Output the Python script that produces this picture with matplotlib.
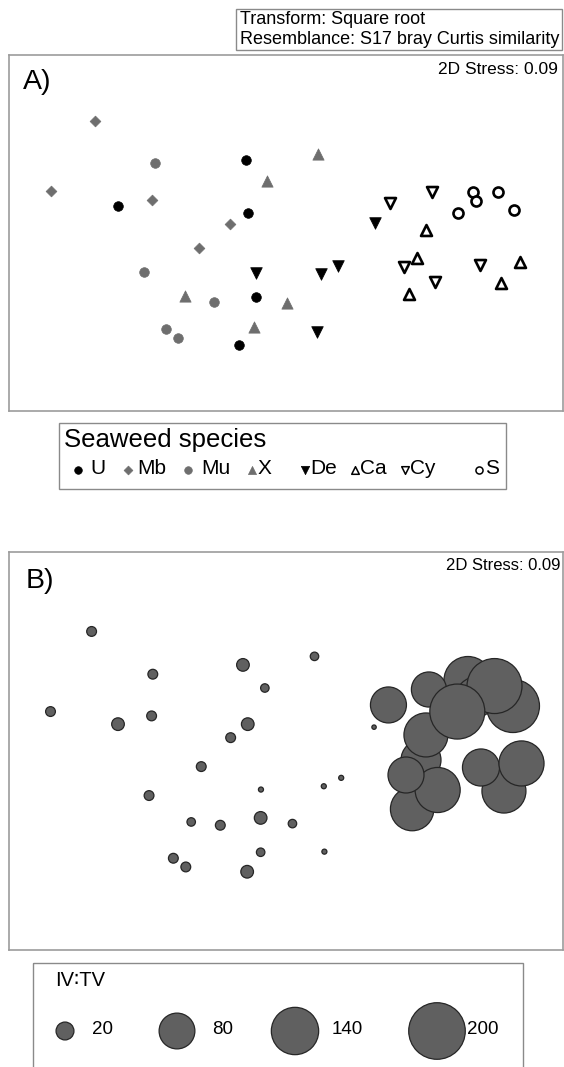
import matplotlib
matplotlib.use('Agg')
import matplotlib.pyplot as plt
from matplotlib.patches import Rectangle

plt.rcParams['font.family'] = ['Liberation Sans', 'DejaVu Sans']

# ---------------- Panel A: NMDS ordination by seaweed species ----------------
species = ['U', 'Mb', 'Mu', 'X', 'De', 'Ca', 'Cy', 'S']

U_x = [-0.265, -1.123, -0.255, -0.200, -0.313]
U_y = [0.489, 0.179, 0.135, -0.429, -0.745]
Mb_x = [-1.273, -1.569, -0.894, -0.373, -0.583]
Mb_y = [0.744, 0.283, 0.219, 0.058, -0.099]
Mu_x = [-0.873, -0.945, -0.477, -0.803, -0.723]
Mu_y = [0.469, -0.257, -0.460, -0.639, -0.697]
X_x = [0.215, -0.127, -0.673, 0.005, -0.212]
X_y = [0.527, 0.350, -0.423, -0.467, -0.628]
De_x = [0.596, -0.197, 0.232, 0.350, 0.210]
De_y = [0.065, -0.267, -0.272, -0.223, -0.657]
Ca_x = [0.936, 0.873, 0.818, 1.561, 1.435]
Ca_y = [0.018, -0.170, -0.405, -0.192, -0.334]
Cy_x = [0.975, 0.693, 0.784, 0.994, 1.293]
Cy_y = [0.273, 0.197, -0.225, -0.329, -0.215]
S_x = [1.148, 1.245, 1.267, 1.411, 1.522]
S_y = [0.135, 0.275, 0.213, 0.275, 0.153]

coords_A = {'U': (U_x, U_y), 'Mb': (Mb_x, Mb_y), 'Mu': (Mu_x, Mu_y),
            'X': (X_x, X_y), 'De': (De_x, De_y), 'Ca': (Ca_x, Ca_y),
            'Cy': (Cy_x, Cy_y), 'S': (S_x, S_y)}

GRAY = '#6e6e6e'
styles = {
    'U':  dict(marker='o', s=48, c='black', edgecolors='black', linewidths=0.5),
    'Mb': dict(marker='D', s=30, c=GRAY, edgecolors=GRAY, linewidths=0.5),
    'Mu': dict(marker='o', s=48, c=GRAY, edgecolors=GRAY, linewidths=0.5),
    'X':  dict(marker='^', s=66, c=GRAY, edgecolors=GRAY, linewidths=0.5),
    'De': dict(marker='v', s=70, c='black', edgecolors='black', linewidths=0.5),
    'Ca': dict(marker='^', s=62, c='white', edgecolors='black', linewidths=1.9),
    'Cy': dict(marker='v', s=62, c='white', edgecolors='black', linewidths=1.9),
    'S':  dict(marker='o', s=52, c='white', edgecolors='black', linewidths=1.9),
}

# ---------------- Panel B: bubble plot of IV:TV ----------------
B_x = [-1.296, -1.570, -0.888, -0.896, -1.120, -0.287, -0.141, 0.190, -0.255,
       -0.369, -0.565, -0.913, -0.167, 0.252, 0.368, -0.632, -0.438, -0.169,
       0.043, -0.751, -0.668, -0.169, -0.259, 0.256, 0.587,
       0.900, 1.513, 1.213, 1.267, 0.953, 0.683, 1.390, 0.933, 1.142,
       0.841, 1.011, 0.800, 1.453, 1.300, 1.570]
B_y = [0.797, 0.263, 0.512, 0.234, 0.179, 0.574, 0.420, 0.631, 0.179,
       0.089, -0.104, -0.297, -0.257, -0.235, -0.179, -0.473, -0.495, -0.446,
       -0.484, -0.715, -0.773, -0.675, -0.805, -0.671, 0.159,
       -0.060, 0.300, 0.470, 0.360, 0.410, 0.307, 0.433, 0.107, 0.263,
       -0.387, -0.260, -0.160, -0.267, -0.110, -0.083]
B_ivtv = [6, 6, 6, 6, 10, 10, 4.5, 4.5, 10,
          6, 6, 6, 1.6, 1.6, 1.6, 4.5, 6, 10,
          4.5, 6, 6, 4.5, 10, 1.6, 1.2,
          100, 176, 144, 100, 77, 81, 189, 121, 189,
          118, 127, 81, 121, 86, 127]
legend_values = [20, 80, 140, 200]

DPI = 100
def area(v):
    # bubble radius in pixels = 2*sqrt(v)  ->  marker area in points^2
    return (4 * v ** 0.5 * 72 / DPI) ** 2

W, H = 564, 1067
fig = plt.figure(figsize=(W / DPI, H / DPI), dpi=DPI)

XL = (-1.8467, 1.8467)
FRAME = '#9c9c9c'

def frame(ax):
    ax.set_xticks([]); ax.set_yticks([])
    for sp in ax.spines.values():
        sp.set_color(FRAME); sp.set_linewidth(1.2)

# Panel A axes: pixels x 9..563, y 55..411
axA = fig.add_axes([9 / W, 1 - 411 / H, 554 / W, 356 / H])
for sp in species:
    x, y = coords_A[sp]
    axA.scatter(x, y, zorder=3, **styles[sp])
axA.set_xlim(*XL)
axA.set_ylim(-1.1867, 1.1867)
frame(axA)

# Panel B axes: pixels x 9..563, y 552..950
axB = fig.add_axes([9 / W, 1 - 950 / H, 554 / W, 398 / H])
axB.scatter(B_x, B_y, s=[area(v) for v in B_ivtv], c='#606060',
            edgecolors='#262626', linewidths=0.9, zorder=3)
axB.set_xlim(*XL)
axB.set_ylim(-1.3267, 1.3267)
frame(axB)

# Overlay in pixel coordinates for annotation boxes / legends
ov = fig.add_axes([0, 0, 1, 1], zorder=5)
ov.set_xlim(0, W); ov.set_ylim(H, 0)
ov.axis('off'); ov.patch.set_alpha(0)

# Header box
ov.add_patch(Rectangle((236, 9), 326, 41, fill=False, ec='#8a8a8a', lw=1.0))
ov.text(240, 19.5, 'Transform: Square root', fontsize=13, va='center', ha='left')
ov.text(240, 39.5, 'Resemblance: S17 bray Curtis similarity', fontsize=13,
        va='center', ha='left')

# Panel labels and stress
ov.text(23, 82, 'A)', fontsize=20.5, va='center', ha='left')
ov.text(558, 70, '2D Stress: 0.09', fontsize=12.5, va='center', ha='right')
ov.text(26, 581, 'B)', fontsize=20.5, va='center', ha='left')
ov.text(560, 566, '2D Stress: 0.09', fontsize=12, va='center', ha='right')

# Legend A
ov.add_patch(Rectangle((59, 423), 447, 66, fill=False, ec='#8a8a8a', lw=1.0))
ov.text(64, 440, 'Seaweed species', fontsize=18.5, va='center', ha='left')
leg_marker_x = [78, 128, 188, 252, 305, 355, 405, 479]
leg_label_x = [90, 137, 201, 258, 310, 360, 410, 485]
leg_small = {'U': 30, 'Mb': 20, 'Mu': 30, 'X': 34, 'De': 36, 'Ca': 30, 'Cy': 30, 'S': 26}
for sp, mx, lx in zip(species, leg_marker_x, leg_label_x):
    st = dict(styles[sp])
    st['s'] = leg_small[sp]
    if st['linewidths'] > 1:
        st['linewidths'] = 1.1
    ov.scatter([mx], [470], **st)
    ov.text(lx, 469, sp, fontsize=15, va='center', ha='left')

# Legend B
ov.add_patch(Rectangle((33, 963), 490, 120, fill=False, ec='#8a8a8a', lw=1.0,
                       clip_on=False))
ov.text(55, 980, 'IV\u2236TV', fontsize=14.5, va='center', ha='left')
leg_b_x = [65, 177, 295, 437]
leg_b_lx = [92, 212, 332, 467]
ov.scatter(leg_b_x, [1031] * 4, s=[area(v) for v in legend_values], c='#606060',
           edgecolors='#262626', linewidths=0.9)
for v, lx in zip(legend_values, leg_b_lx):
    ov.text(lx, 1029, str(v), fontsize=13.5, va='center', ha='left')

fig.savefig('out.png', dpi=DPI)
